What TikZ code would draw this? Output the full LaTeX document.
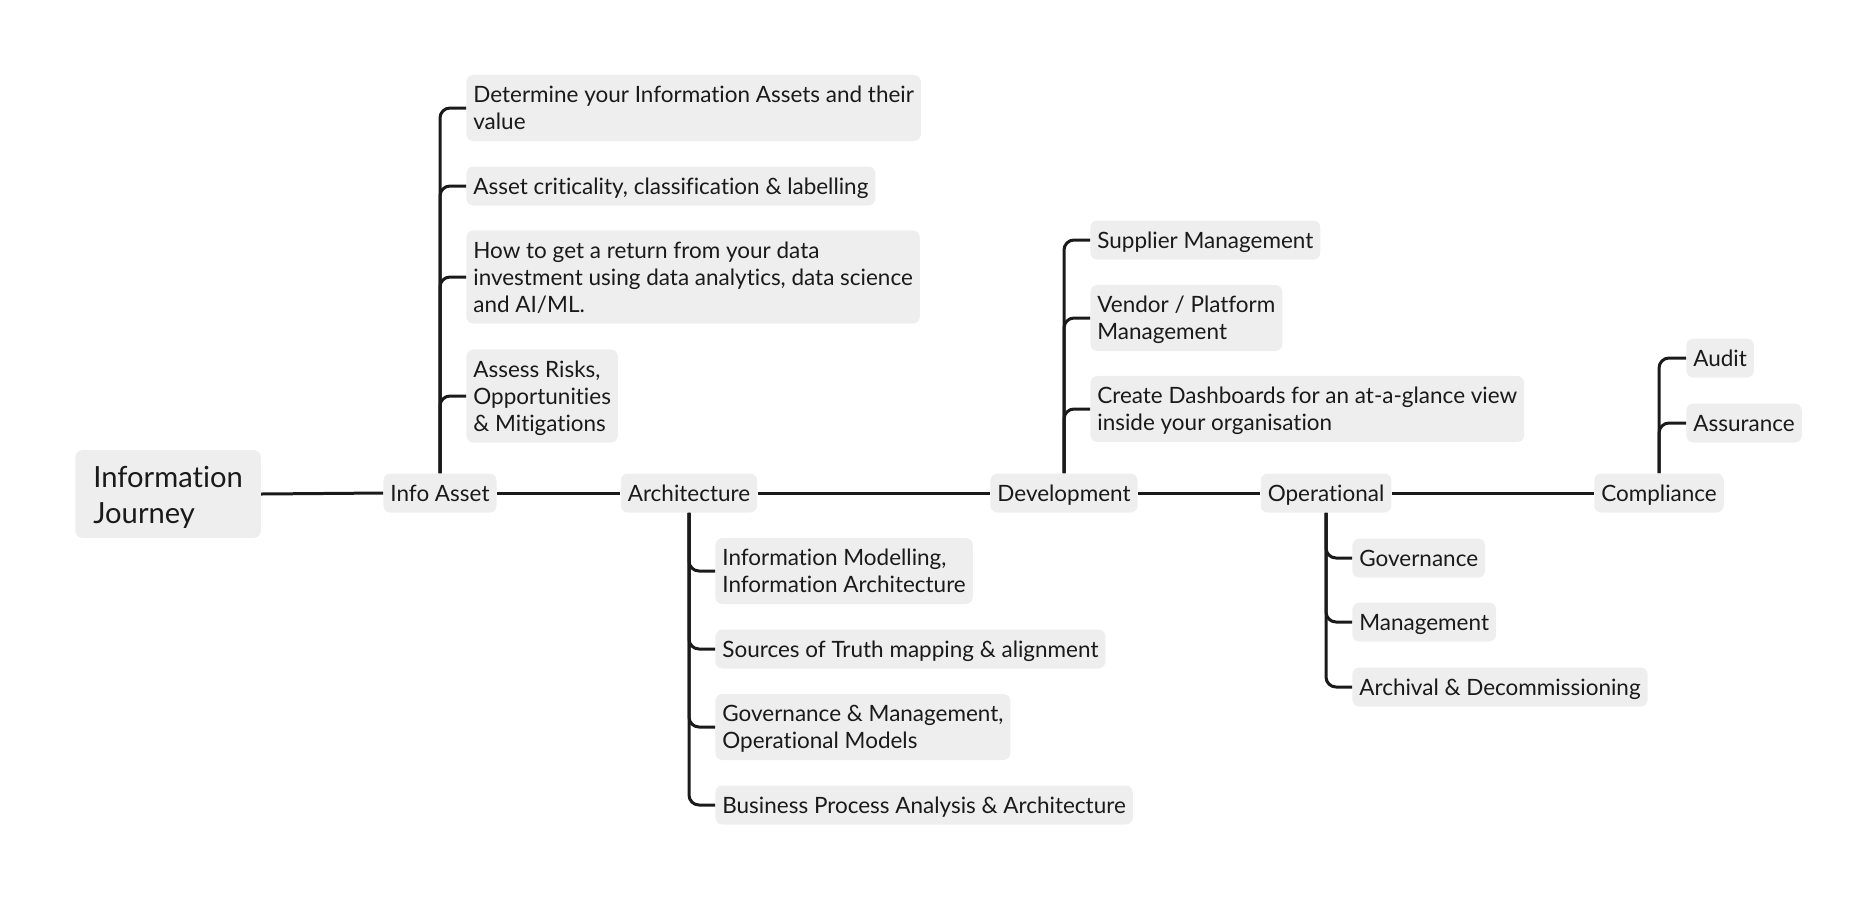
\documentclass[tikz,border=0pt]{standalone}
\usepackage{fontspec}
\setmainfont{Lato}[Ligatures=NoCommon]
\usepackage{tikz}
\definecolor{boxgrey}{HTML}{EEEEEE}
\definecolor{ink}{HTML}{1A1A1A}
\newcommand{\topicfont}[2]{\fontsize{#1}{#2}\selectfont
  \setbox\strutbox\hbox{\vrule height 0.81\baselineskip depth 0.19\baselineskip width 0pt}}
\newcommand{\topictext}[1]{\begin{tabular}{@{}l@{}}#1\end{tabular}}
\tikzset{
  topic/.style={fill=boxgrey, rounded corners=0.14cm, text=ink,
    inner xsep=0.14cm, inner ysep=3.4pt,
    font=\topicfont{12.8}{15.4}},
  central/.style={topic, inner xsep=0.36cm, inner ysep=0.157cm,
    font=\topicfont{16.6}{20.5}},
  link/.style={draw=ink, line width=0.06cm, rounded corners=0.2cm}
}

\begin{document}
\begin{tikzpicture}[x=0.02cm, y=-0.02cm]
    \useasboundingbox (0,0) rectangle (1875,900);
    % main line
    \node[central, anchor=west] (journey) at (75,494) {\topictext{Information\\Journey}};
    \node[topic] (infoasset) at (440,493) {\topictext{Info Asset}};
    \node[topic] (arch) at (689,493) {\topictext{Architecture}};
    \node[topic] (dev) at (1064,493) {\topictext{Development}};
    \node[topic] (oper) at (1326,493) {\topictext{Operational}};
    \node[topic] (compl) at (1659,493) {\topictext{Compliance}};
    \foreach \a/\b in {journey/infoasset, infoasset/arch, arch/dev, dev/oper, oper/compl}
    {
      \draw[link] (\a.east) -- (\b.west);
    }
    % info asset
    \begin{scope}[every node/.style={topic, anchor=west}]
      \node (ia1) at (466,108) {\topictext{Determine your Information Assets and their\\value}};
      \node (ia2) at (466,186) {\topictext{Asset criticality, classification \& labelling}};
      \node (ia3) at (466,277) {\topictext{How to get a return from your data\\investment using data analytics, data science\\and AI/ML.}};
      \node (ia4) at (466,396) {\topictext{Assess Risks,\\Opportunities\\\& Mitigations}};
    \end{scope}
    \foreach \c in {ia1,ia2,ia3,ia4}
    {
      \draw[link] (infoasset.north) |- (\c.west);
    }
    % architecture
    \begin{scope}[every node/.style={topic, anchor=west}]
      \node (ar1) at (715,571) {\topictext{Information Modelling,\\Information Architecture}};
      \node (ar2) at (715,649) {\topictext{Sources of Truth mapping \& alignment}};
      \node (ar3) at (715,727) {\topictext{Governance \& Management,\\Operational Models}};
      \node (ar4) at (715,805) {\topictext{Business Process Analysis \& Architecture}};
    \end{scope}
    \foreach \c in {ar1,ar2,ar3,ar4}
    {
      \draw[link] (arch.south) |- (\c.west);
    }
    % development
    \begin{scope}[every node/.style={topic, anchor=west}]
      \node (dv1) at (1090,240) {\topictext{Supplier Management}};
      \node (dv2) at (1090,318) {\topictext{Vendor / Platform\\Management}};
      \node (dv3) at (1090,409) {\topictext{Create Dashboards for an at-a-glance view\\inside your organisation}};
    \end{scope}
    \foreach \c in {dv1,dv2,dv3}
    {
      \draw[link] (dev.north) |- (\c.west);
    }
    % operational
    \begin{scope}[every node/.style={topic, anchor=west}]
      \node (op1) at (1352,558) {\topictext{Governance}};
      \node (op2) at (1352,622) {\topictext{Management}};
      \node (op3) at (1352,687) {\topictext{Archival \& Decommissioning}};
    \end{scope}
    \foreach \c in {op1,op2,op3}
    {
      \draw[link] (oper.south) |- (\c.west);
    }
    % compliance
    \begin{scope}[every node/.style={topic, anchor=west}]
      \node (cp1) at (1686,358) {\topictext{Audit}};
      \node (cp2) at (1686,423) {\topictext{Assurance}};
    \end{scope}
    \foreach \c in {cp1,cp2}
    {
      \draw[link] (compl.north) |- (\c.west);
    }
\end{tikzpicture}
\end{document}
